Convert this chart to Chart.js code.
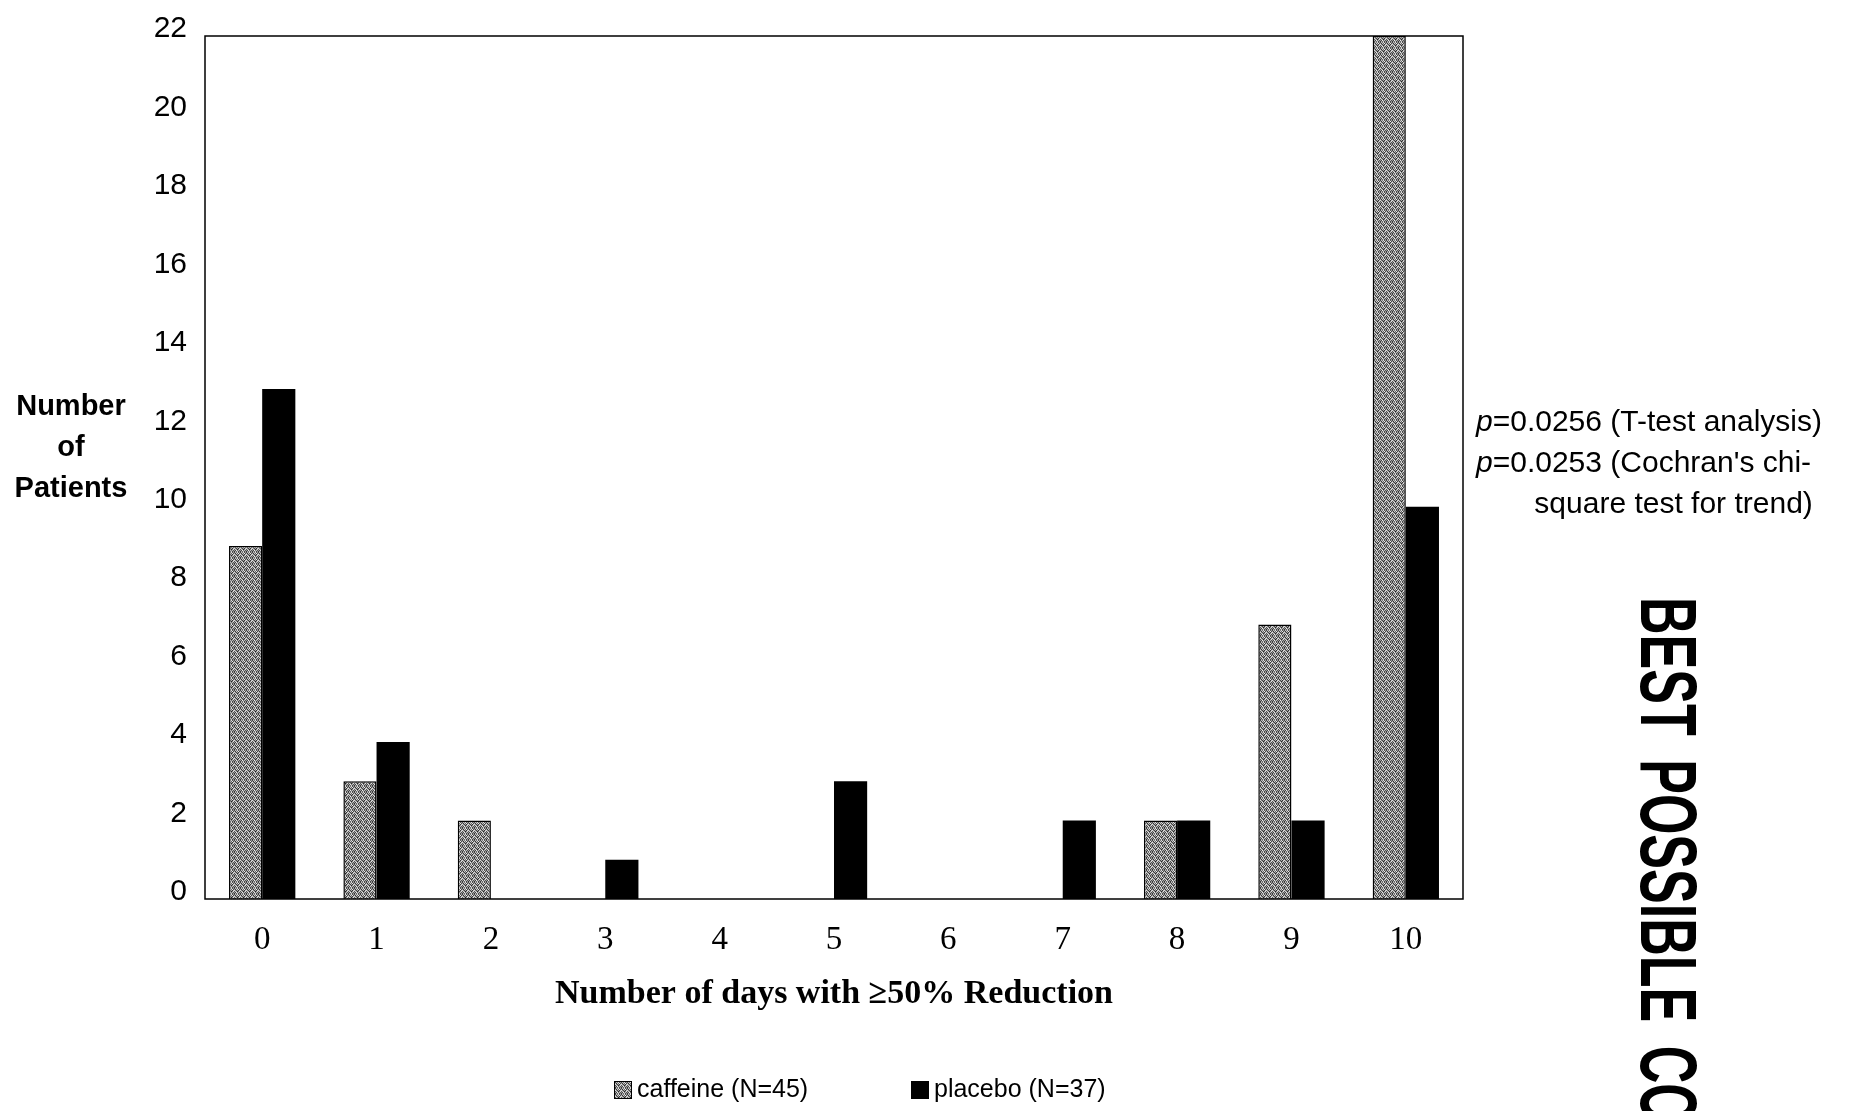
<!DOCTYPE html>
<html>
<head>
<meta charset="utf-8">
<script src="https://cdn.jsdelivr.net/npm/chart.js@4"></script>
<style>
  html, body { margin: 0; padding: 0; background: #fff; overflow: hidden; }
  #wrap { position: relative; width: 1851px; height: 1111px; overflow: hidden; }
  #chart { position: absolute; left: 0; top: 0; }
  .txt { position: absolute; font-family: "Liberation Sans", Arial, sans-serif; color: #000; white-space: nowrap; }
  #ytitle { left: 0; top: 385px; width: 142px; text-align: center; font-weight: bold; font-size: 29px; line-height: 41px; }
  #note { left: 1476px; top: 400px; font-size: 30px; line-height: 41px; }
  #note i { font-style: italic; }
  #stamp { left: 1708px; top: 597px; font-size: 80px; line-height: 80px; font-weight: bold; word-spacing: 14px;
           transform-origin: 0 0; transform: rotate(90deg) scaleX(0.65); }
  .leg { top: 1073px; font-size: 25px; line-height: 30px; }
  .sw { display: inline-block; width: 18px; height: 18px; vertical-align: -2px; margin-right: 5px; box-sizing: border-box; }
</style>
</head>
<body>
<div id="wrap">
  <canvas id="chart" width="1851" height="1111"></canvas>
  <div class="txt" id="ytitle">Number<br>of<br>Patients</div>
  <div class="txt" id="note"><i>p</i>=0.0256 (T-test analysis)<br><i>p</i>=0.0253 (Cochran's chi-<br>&nbsp;&nbsp;&nbsp;&nbsp;&nbsp;&nbsp;&nbsp;square test for trend)</div>
  <div class="txt" id="stamp">BEST POSSIBLE CO</div>
  <div class="txt leg" style="left:614px"><span class="sw" id="swCaf" style="border:1px solid #000"></span>caffeine (N=45)</div>
  <div class="txt leg" style="left:911px"><span class="sw" style="background:#000"></span>placebo (N=37)</div>
</div>
<script>
const days = ['0', '1', '2', '3', '4', '5', '6', '7', '8', '9', '10']
const caffeine = [9, 3, 2, 0, 0, 0, 0, 0, 2, 7, 22]
const placebo = [13, 4, 0, 1, 0, 3, 0, 2, 2, 2, 10]

// grey stipple like the scanned bars
const shades = [
  [0x44, 0xbb, 0x77, 0xdd, 0x55, 0x99],
  [0xaa, 0x33, 0xcc, 0x66, 0xee, 0x44],
  [0xdd, 0x88, 0x44, 0xaa, 0x33, 0xbb],
  [0x55, 0xcc, 0x99, 0x22, 0x88, 0xdd],
  [0x99, 0x44, 0xee, 0x77, 0xbb, 0x55],
  [0x33, 0xaa, 0x66, 0xcc, 0x44, 0x99],
]
const pc = document.createElement('canvas')
pc.width = 6
pc.height = 6
const pctx = pc.getContext('2d')
shades.forEach((row, y) => row.forEach((v, x) => {
  pctx.fillStyle = `rgb(${v},${v},${v})`
  pctx.fillRect(x, y, 1, 1)
}))
const stipple = pctx.createPattern(pc, 'repeat')
document.getElementById('swCaf').style.background = `url(${pc.toDataURL()})`

const frame = {
  id: 'frame',
  afterDatasetsDraw(chart) {
    const { ctx, chartArea: a } = chart
    ctx.save()
    ctx.strokeStyle = '#000'
    ctx.lineWidth = 1.5
    ctx.strokeRect(a.left, a.top, a.right - a.left, a.bottom - a.top)
    ctx.restore()
  },
}

new Chart(document.getElementById('chart'), {
  type: 'bar',
  plugins: [frame],
  data: {
    labels: days,
    datasets: [
      {
        label: 'caffeine (N=45)',
        data: caffeine,
        backgroundColor: stipple,
        borderColor: '#000',
        borderWidth: 1.5,
      },
      {
        label: 'placebo (N=37)',
        data: placebo,
        backgroundColor: '#000',
        borderColor: '#000',
        borderWidth: 0,
      },
    ],
  },
  options: {
    responsive: false,
    animation: false,
    layout: { padding: { left: 0, top: 28, right: 388, bottom: 96 } },
    plugins: {
      legend: { display: false },
      tooltip: { enabled: false },
    },
    datasets: { bar: { categoryPercentage: 0.58, barPercentage: 1.0 } },
    scales: {
      x: {
        grid: { display: false, drawTicks: false },
        border: { display: false },
        ticks: {
          color: '#000',
          padding: 22,
          font: { family: '"Liberation Serif", "Times New Roman", serif', size: 33 },
        },
        title: {
          display: true,
          text: 'Number of days with ≥50% Reduction',
          color: '#000',
          padding: { top: 12, bottom: 0 },
          font: { family: '"Liberation Serif", "Times New Roman", serif', size: 34, weight: 'bold' },
        },
        afterFit(scale) { scale.height = 116 },
      },
      y: {
        min: 0,
        max: 22,
        grid: { display: false, drawTicks: false },
        border: { display: false },
        ticks: {
          stepSize: 2,
          color: '#000',
          padding: 18,
          labelOffset: -7,
          font: { family: '"Liberation Sans", Arial, sans-serif', size: 30 },
        },
        afterFit(scale) { scale.width = 205 },
      },
    },
  },
})
</script>
</body>
</html>
